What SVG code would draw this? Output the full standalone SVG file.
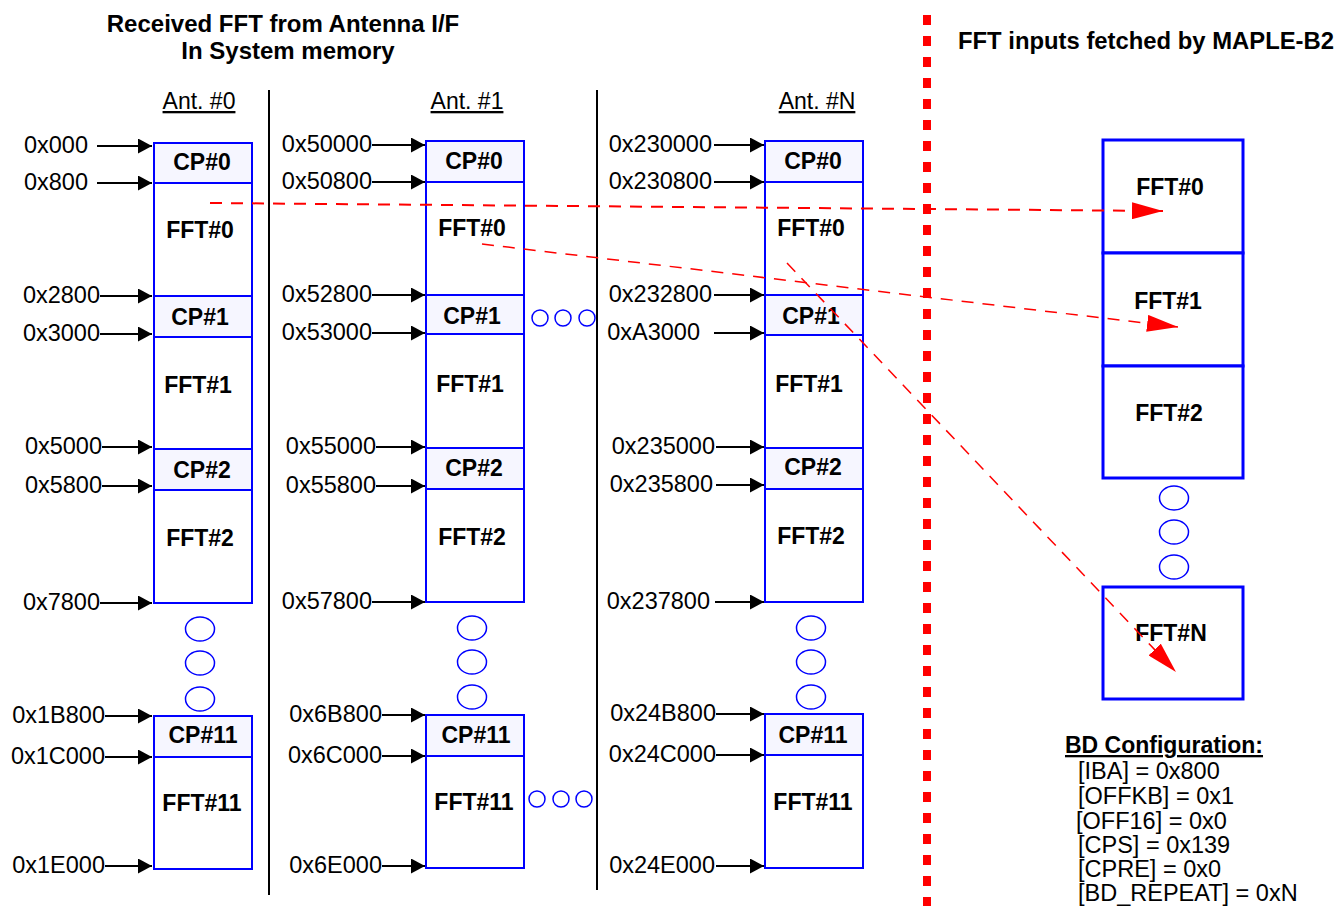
<svg xmlns="http://www.w3.org/2000/svg" width="1338" height="906" viewBox="0 0 1338 906">
<style>
text{font-family:"Liberation Sans",Arial,Helvetica,sans-serif;font-size:23px;fill:#000}
.b{font-weight:bold}
.ttl{font-weight:bold;font-size:24px}
.c{text-anchor:middle}
.e{text-anchor:end;font-size:23.5px}
.u{text-decoration:underline}
.cfg{font-size:23.5px}
.box{fill:#fff;stroke:#00f;stroke-width:2}
.cp{fill:#f6f6ff;stroke:#00f;stroke-width:2}
.rbox{fill:#fff;stroke:#00f;stroke-width:3}
.ell{fill:none;stroke:#00f;stroke-width:1.5}
.sep{stroke:#000;stroke-width:2}
.addr{stroke:#000;stroke-width:2;fill:none;marker-end:url(#ah)}
.red{stroke:#f00;fill:none;stroke-dasharray:12 9}
</style>
<defs>
<marker id="ah" markerUnits="userSpaceOnUse" viewBox="0 0 14 15" markerWidth="14" markerHeight="15" refX="14" refY="7.5" orient="auto"><path d="M0,0L14,7.5L0,15z" fill="#000" stroke="none"/></marker>
<marker id="rh" markerUnits="userSpaceOnUse" viewBox="0 0 31 17" markerWidth="31" markerHeight="17" refX="31" refY="8.5" orient="auto"><path d="M0,0L31,8.5L0,17z" fill="#f00" stroke="none"/></marker>
</defs>
<rect width="1338" height="906" fill="#fff"/>

<g id="titles">
<text class="ttl c" x="283" y="32">Received FFT from Antenna I/F</text>
<text class="ttl c" x="288" y="59">In System memory</text>
<text class="ttl" x="958" y="49" textLength="376" lengthAdjust="spacingAndGlyphs">FFT inputs fetched by MAPLE-B2</text>
<text class="c u" x="199" y="109">Ant. #0</text>
<text class="c u" x="467" y="109">Ant. #1</text>
<text class="c u" x="817" y="109">Ant. #N</text>
</g>

<g id="separators">
<line class="sep" x1="269" y1="90" x2="269" y2="895"/>
<line class="sep" x1="597" y1="90" x2="597" y2="890"/>
<line x1="927" y1="15" x2="927" y2="906" stroke="#f00" stroke-width="8" stroke-dasharray="10 11"/>
</g>

<!-- Antenna 0 -->
<g id="a0-cp0"><rect class="cp" x="154" y="143" width="98" height="40"/><text class="b c" x="202" y="170">CP#0</text></g>
<g id="a0-fft0"><rect class="box" x="154" y="183" width="98" height="113"/><text class="b c" x="200" y="238">FFT#0</text></g>
<g id="a0-cp1"><rect class="cp" x="154" y="296" width="98" height="41"/><text class="b c" x="200" y="325">CP#1</text></g>
<g id="a0-fft1"><rect class="box" x="154" y="337" width="98" height="112"/><text class="b c" x="198" y="393">FFT#1</text></g>
<g id="a0-cp2"><rect class="cp" x="154" y="449" width="98" height="41"/><text class="b c" x="202" y="478">CP#2</text></g>
<g id="a0-fft2"><rect class="box" x="154" y="490" width="98" height="113"/><text class="b c" x="200" y="546">FFT#2</text></g>
<g id="a0-dots"><ellipse class="ell" cx="200" cy="629" rx="14.5" ry="12"/><ellipse class="ell" cx="200" cy="663" rx="14.5" ry="12"/><ellipse class="ell" cx="200" cy="699" rx="14.5" ry="12"/></g>
<g id="a0-cp11"><rect class="cp" x="154" y="716" width="98" height="41"/><text class="b c" x="203" y="743">CP#11</text></g>
<g id="a0-fft11"><rect class="box" x="154" y="757" width="98" height="112"/><text class="b c" x="202" y="811">FFT#11</text></g>

<!-- Antenna 1 -->
<g id="a1-cp0"><rect class="cp" x="426" y="141" width="98" height="41"/><text class="b c" x="474" y="169">CP#0</text></g>
<g id="a1-fft0"><rect class="box" x="426" y="182" width="98" height="113"/><text class="b c" x="472" y="236">FFT#0</text></g>
<g id="a1-cp1"><rect class="cp" x="426" y="295" width="98" height="39"/><text class="b c" x="472" y="324">CP#1</text></g>
<g id="a1-fft1"><rect class="box" x="426" y="334" width="98" height="114"/><text class="b c" x="470" y="392">FFT#1</text></g>
<g id="a1-cp2"><rect class="cp" x="426" y="448" width="98" height="41"/><text class="b c" x="474" y="476">CP#2</text></g>
<g id="a1-fft2"><rect class="box" x="426" y="489" width="98" height="113"/><text class="b c" x="472" y="545">FFT#2</text></g>
<g id="a1-dots"><ellipse class="ell" cx="472" cy="628" rx="14.5" ry="12"/><ellipse class="ell" cx="472" cy="662" rx="14.5" ry="12"/><ellipse class="ell" cx="472" cy="697" rx="14.5" ry="12"/></g>
<g id="a1-cp11"><rect class="cp" x="426" y="715" width="98" height="41"/><text class="b c" x="476" y="743">CP#11</text></g>
<g id="a1-fft11"><rect class="box" x="426" y="756" width="98" height="112"/><text class="b c" x="474" y="810">FFT#11</text></g>
<g id="mid-dots1"><circle class="ell" cx="540" cy="318" r="8"/><circle class="ell" cx="563" cy="318" r="8"/><circle class="ell" cx="587" cy="318" r="8"/></g>
<g id="mid-dots2"><circle class="ell" cx="537" cy="799" r="8"/><circle class="ell" cx="561" cy="799" r="8"/><circle class="ell" cx="584" cy="799" r="8"/></g>

<!-- Antenna N -->
<g id="aN-cp0"><rect class="cp" x="765" y="141" width="98" height="41"/><text class="b c" x="813" y="169">CP#0</text></g>
<g id="aN-fft0"><rect class="box" x="765" y="182" width="98" height="113"/><text class="b c" x="811" y="236">FFT#0</text></g>
<g id="aN-cp1"><rect class="cp" x="765" y="295" width="98" height="40"/><text class="b c" x="811" y="324">CP#1</text></g>
<g id="aN-fft1"><rect class="box" x="765" y="335" width="98" height="113"/><text class="b c" x="809" y="392">FFT#1</text></g>
<g id="aN-cp2"><rect class="cp" x="765" y="448" width="98" height="41"/><text class="b c" x="813" y="475">CP#2</text></g>
<g id="aN-fft2"><rect class="box" x="765" y="489" width="98" height="113"/><text class="b c" x="811" y="544">FFT#2</text></g>
<g id="aN-dots"><ellipse class="ell" cx="811" cy="628" rx="14.5" ry="12"/><ellipse class="ell" cx="811" cy="662" rx="14.5" ry="12"/><ellipse class="ell" cx="811" cy="697" rx="14.5" ry="12"/></g>
<g id="aN-cp11"><rect class="cp" x="765" y="714" width="98" height="41"/><text class="b c" x="813" y="743">CP#11</text></g>
<g id="aN-fft11"><rect class="box" x="765" y="755" width="98" height="113"/><text class="b c" x="813" y="810">FFT#11</text></g>

<!-- MAPLE side -->
<g id="m-fft0"><rect class="rbox" x="1103" y="140" width="140" height="113"/><text class="b c" x="1170" y="195">FFT#0</text></g>
<g id="m-fft1"><rect class="rbox" x="1103" y="253" width="140" height="113"/><text class="b c" x="1168" y="309">FFT#1</text></g>
<g id="m-fft2"><rect class="rbox" x="1103" y="366" width="140" height="112"/><text class="b c" x="1169" y="421">FFT#2</text></g>
<g id="m-dots"><ellipse class="ell" cx="1174" cy="498" rx="14.5" ry="12"/><ellipse class="ell" cx="1174" cy="532" rx="14.5" ry="12"/><ellipse class="ell" cx="1174" cy="567" rx="14.5" ry="12"/></g>
<g id="m-fftN"><rect class="rbox" x="1103" y="587" width="140" height="112"/><text class="b c" x="1171" y="641">FFT#N</text></g>

<g id="bd-config">
<text class="b u" x="1065" y="753">BD Configuration:</text>
<text class="cfg" x="1078" y="779">[IBA] = 0x800</text>
<text class="cfg" x="1078" y="804">[OFFKB] = 0x1</text>
<text class="cfg" x="1076" y="829">[OFF16] = 0x0</text>
<text class="cfg" x="1078" y="853">[CPS] = 0x139</text>
<text class="cfg" x="1078" y="877">[CPRE] = 0x0</text>
<text class="cfg" x="1078" y="901">[BD_REPEAT] = 0xN</text>
</g>

<g id="address-labels">
<text class="e" x="88" y="153">0x000</text>
<text class="e" x="88" y="190">0x800</text>
<text class="e" x="100" y="303">0x2800</text>
<text class="e" x="100" y="341">0x3000</text>
<text class="e" x="102" y="454">0x5000</text>
<text class="e" x="102" y="493">0x5800</text>
<text class="e" x="100" y="610">0x7800</text>
<text class="e" x="105" y="723">0x1B800</text>
<text class="e" x="105" y="764">0x1C000</text>
<text class="e" x="105" y="873">0x1E000</text>

<text class="e" x="372" y="152">0x50000</text>
<text class="e" x="372" y="189">0x50800</text>
<text class="e" x="372" y="302">0x52800</text>
<text class="e" x="372" y="340">0x53000</text>
<text class="e" x="376" y="454">0x55000</text>
<text class="e" x="376" y="493">0x55800</text>
<text class="e" x="372" y="609">0x57800</text>
<text class="e" x="382" y="722">0x6B800</text>
<text class="e" x="382" y="763">0x6C000</text>
<text class="e" x="382" y="873">0x6E000</text>

<text class="e" x="712" y="152">0x230000</text>
<text class="e" x="712" y="189">0x230800</text>
<text class="e" x="712" y="302">0x232800</text>
<text class="e" x="700" y="340">0xA3000</text>
<text class="e" x="715" y="454">0x235000</text>
<text class="e" x="713" y="492">0x235800</text>
<text class="e" x="710" y="609">0x237800</text>
<text class="e" x="716" y="721">0x24B800</text>
<text class="e" x="716" y="762">0x24C000</text>
<text class="e" x="715" y="873">0x24E000</text>
</g>

<g id="connectors">
<line class="addr" x1="97" y1="146" x2="152" y2="146"/>
<line class="addr" x1="97" y1="183" x2="152" y2="183"/>
<line class="addr" x1="100" y1="296" x2="152" y2="296"/>
<line class="addr" x1="100" y1="334" x2="152" y2="334"/>
<line class="addr" x1="102" y1="447" x2="152" y2="447"/>
<line class="addr" x1="102" y1="486" x2="152" y2="486"/>
<line class="addr" x1="100" y1="603" x2="152" y2="603"/>
<line class="addr" x1="105" y1="716" x2="152" y2="716"/>
<line class="addr" x1="105" y1="757" x2="152" y2="757"/>
<line class="addr" x1="105" y1="866" x2="152" y2="866"/>

<line class="addr" x1="372" y1="145" x2="425" y2="145"/>
<line class="addr" x1="372" y1="182" x2="425" y2="182"/>
<line class="addr" x1="372" y1="295" x2="425" y2="295"/>
<line class="addr" x1="372" y1="333" x2="425" y2="333"/>
<line class="addr" x1="376" y1="447" x2="425" y2="447"/>
<line class="addr" x1="376" y1="486" x2="425" y2="486"/>
<line class="addr" x1="372" y1="602" x2="425" y2="602"/>
<line class="addr" x1="382" y1="715" x2="425" y2="715"/>
<line class="addr" x1="382" y1="756" x2="425" y2="756"/>
<line class="addr" x1="382" y1="866" x2="425" y2="866"/>

<line class="addr" x1="714" y1="145" x2="764" y2="145"/>
<line class="addr" x1="714" y1="182" x2="764" y2="182"/>
<line class="addr" x1="714" y1="295" x2="764" y2="295"/>
<line class="addr" x1="714" y1="333" x2="764" y2="333"/>
<line class="addr" x1="716" y1="447" x2="764" y2="447"/>
<line class="addr" x1="716" y1="485" x2="764" y2="485"/>
<line class="addr" x1="715" y1="602" x2="764" y2="602"/>
<line class="addr" x1="716" y1="714" x2="764" y2="714"/>
<line class="addr" x1="716" y1="755" x2="764" y2="755"/>
<line class="addr" x1="716" y1="866" x2="764" y2="866"/>

<line class="red" x1="210" y1="203" x2="1163" y2="211" stroke-width="2" marker-end="url(#rh)"/>
<line class="red" x1="482" y1="244" x2="1178" y2="327" stroke-width="1.5" marker-end="url(#rh)"/>
<line class="red" x1="787" y1="263" x2="1176" y2="672" stroke-width="1.5" marker-end="url(#rh)"/>
</g>
</svg>
